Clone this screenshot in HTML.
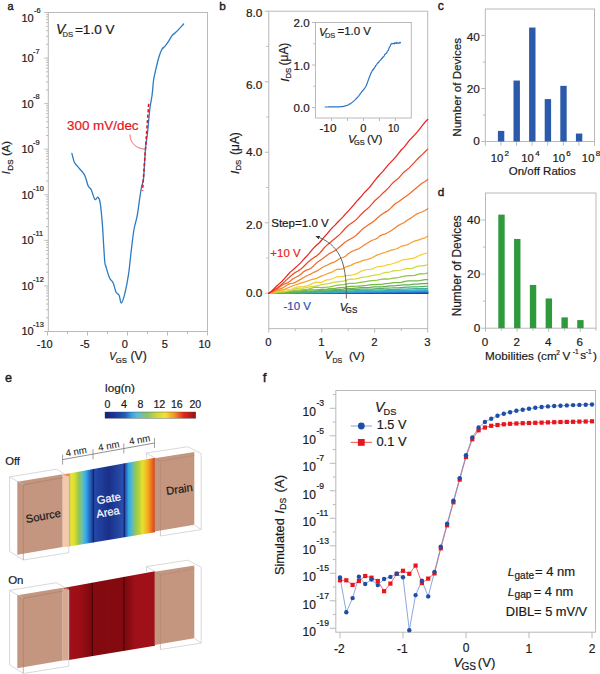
<!DOCTYPE html>
<html><head><meta charset="utf-8"><style>
html,body{margin:0;padding:0;background:#fff;}
svg{display:block;font-family:"Liberation Sans",sans-serif;}
text{font-family:"Liberation Sans",sans-serif;stroke:currentColor;stroke-width:0.2px;}
</style></head><body>
<svg width="600" height="674" viewBox="0 0 600 674">
<rect width="600" height="674" fill="#fff"/>
<text x="7.57" y="10.19" fill="#1a1a1a" color="#1a1a1a" style="font-size:10.87px;stroke-width:0.4px;">a</text>
<text x="219.23" y="10.18" fill="#1a1a1a" color="#1a1a1a" style="font-size:11.78px;stroke-width:0.4px;">b</text>
<text x="437.71" y="10.38" fill="#1a1a1a" color="#1a1a1a" style="font-size:12.23px;stroke-width:0.4px;">c</text>
<text x="437.73" y="195.58" fill="#1a1a1a" color="#1a1a1a" style="font-size:11.80px;stroke-width:0.4px;">d</text>
<text x="5.00" y="381.67" fill="#1a1a1a" color="#1a1a1a" style="font-size:12.60px;stroke-width:0.4px;">e</text>
<text x="262.80" y="381.70" fill="#1a1a1a" color="#1a1a1a" style="font-size:13.65px;stroke-width:0.4px;">f</text>
<rect x="48.30" y="12.50" width="159.20" height="319.00" fill="none" stroke="#bababa" stroke-width="1" />
<line x1="44.30" y1="331.50" x2="48.30" y2="331.50" stroke="#bababa" stroke-width="1" />
<line x1="46.10" y1="317.78" x2="48.30" y2="317.78" stroke="#bababa" stroke-width="1" />
<line x1="46.10" y1="309.76" x2="48.30" y2="309.76" stroke="#bababa" stroke-width="1" />
<line x1="46.10" y1="304.06" x2="48.30" y2="304.06" stroke="#bababa" stroke-width="1" />
<line x1="46.10" y1="299.65" x2="48.30" y2="299.65" stroke="#bababa" stroke-width="1" />
<line x1="46.10" y1="296.04" x2="48.30" y2="296.04" stroke="#bababa" stroke-width="1" />
<line x1="46.10" y1="292.99" x2="48.30" y2="292.99" stroke="#bababa" stroke-width="1" />
<line x1="46.10" y1="290.34" x2="48.30" y2="290.34" stroke="#bababa" stroke-width="1" />
<line x1="46.10" y1="288.01" x2="48.30" y2="288.01" stroke="#bababa" stroke-width="1" />
<line x1="44.30" y1="285.93" x2="48.30" y2="285.93" stroke="#bababa" stroke-width="1" />
<line x1="46.10" y1="272.21" x2="48.30" y2="272.21" stroke="#bababa" stroke-width="1" />
<line x1="46.10" y1="264.19" x2="48.30" y2="264.19" stroke="#bababa" stroke-width="1" />
<line x1="46.10" y1="258.49" x2="48.30" y2="258.49" stroke="#bababa" stroke-width="1" />
<line x1="46.10" y1="254.08" x2="48.30" y2="254.08" stroke="#bababa" stroke-width="1" />
<line x1="46.10" y1="250.47" x2="48.30" y2="250.47" stroke="#bababa" stroke-width="1" />
<line x1="46.10" y1="247.42" x2="48.30" y2="247.42" stroke="#bababa" stroke-width="1" />
<line x1="46.10" y1="244.77" x2="48.30" y2="244.77" stroke="#bababa" stroke-width="1" />
<line x1="46.10" y1="242.44" x2="48.30" y2="242.44" stroke="#bababa" stroke-width="1" />
<line x1="44.30" y1="240.36" x2="48.30" y2="240.36" stroke="#bababa" stroke-width="1" />
<line x1="46.10" y1="226.64" x2="48.30" y2="226.64" stroke="#bababa" stroke-width="1" />
<line x1="46.10" y1="218.61" x2="48.30" y2="218.61" stroke="#bababa" stroke-width="1" />
<line x1="46.10" y1="212.92" x2="48.30" y2="212.92" stroke="#bababa" stroke-width="1" />
<line x1="46.10" y1="208.50" x2="48.30" y2="208.50" stroke="#bababa" stroke-width="1" />
<line x1="46.10" y1="204.90" x2="48.30" y2="204.90" stroke="#bababa" stroke-width="1" />
<line x1="46.10" y1="201.84" x2="48.30" y2="201.84" stroke="#bababa" stroke-width="1" />
<line x1="46.10" y1="199.20" x2="48.30" y2="199.20" stroke="#bababa" stroke-width="1" />
<line x1="46.10" y1="196.87" x2="48.30" y2="196.87" stroke="#bababa" stroke-width="1" />
<line x1="44.30" y1="194.79" x2="48.30" y2="194.79" stroke="#bababa" stroke-width="1" />
<line x1="46.10" y1="181.07" x2="48.30" y2="181.07" stroke="#bababa" stroke-width="1" />
<line x1="46.10" y1="173.04" x2="48.30" y2="173.04" stroke="#bababa" stroke-width="1" />
<line x1="46.10" y1="167.35" x2="48.30" y2="167.35" stroke="#bababa" stroke-width="1" />
<line x1="46.10" y1="162.93" x2="48.30" y2="162.93" stroke="#bababa" stroke-width="1" />
<line x1="46.10" y1="159.32" x2="48.30" y2="159.32" stroke="#bababa" stroke-width="1" />
<line x1="46.10" y1="156.27" x2="48.30" y2="156.27" stroke="#bababa" stroke-width="1" />
<line x1="46.10" y1="153.63" x2="48.30" y2="153.63" stroke="#bababa" stroke-width="1" />
<line x1="46.10" y1="151.30" x2="48.30" y2="151.30" stroke="#bababa" stroke-width="1" />
<line x1="44.30" y1="149.21" x2="48.30" y2="149.21" stroke="#bababa" stroke-width="1" />
<line x1="46.10" y1="135.50" x2="48.30" y2="135.50" stroke="#bababa" stroke-width="1" />
<line x1="46.10" y1="127.47" x2="48.30" y2="127.47" stroke="#bababa" stroke-width="1" />
<line x1="46.10" y1="121.78" x2="48.30" y2="121.78" stroke="#bababa" stroke-width="1" />
<line x1="46.10" y1="117.36" x2="48.30" y2="117.36" stroke="#bababa" stroke-width="1" />
<line x1="46.10" y1="113.75" x2="48.30" y2="113.75" stroke="#bababa" stroke-width="1" />
<line x1="46.10" y1="110.70" x2="48.30" y2="110.70" stroke="#bababa" stroke-width="1" />
<line x1="46.10" y1="108.06" x2="48.30" y2="108.06" stroke="#bababa" stroke-width="1" />
<line x1="46.10" y1="105.73" x2="48.30" y2="105.73" stroke="#bababa" stroke-width="1" />
<line x1="44.30" y1="103.64" x2="48.30" y2="103.64" stroke="#bababa" stroke-width="1" />
<line x1="46.10" y1="89.92" x2="48.30" y2="89.92" stroke="#bababa" stroke-width="1" />
<line x1="46.10" y1="81.90" x2="48.30" y2="81.90" stroke="#bababa" stroke-width="1" />
<line x1="46.10" y1="76.21" x2="48.30" y2="76.21" stroke="#bababa" stroke-width="1" />
<line x1="46.10" y1="71.79" x2="48.30" y2="71.79" stroke="#bababa" stroke-width="1" />
<line x1="46.10" y1="68.18" x2="48.30" y2="68.18" stroke="#bababa" stroke-width="1" />
<line x1="46.10" y1="65.13" x2="48.30" y2="65.13" stroke="#bababa" stroke-width="1" />
<line x1="46.10" y1="62.49" x2="48.30" y2="62.49" stroke="#bababa" stroke-width="1" />
<line x1="46.10" y1="60.16" x2="48.30" y2="60.16" stroke="#bababa" stroke-width="1" />
<line x1="44.30" y1="58.07" x2="48.30" y2="58.07" stroke="#bababa" stroke-width="1" />
<line x1="46.10" y1="44.35" x2="48.30" y2="44.35" stroke="#bababa" stroke-width="1" />
<line x1="46.10" y1="36.33" x2="48.30" y2="36.33" stroke="#bababa" stroke-width="1" />
<line x1="46.10" y1="30.63" x2="48.30" y2="30.63" stroke="#bababa" stroke-width="1" />
<line x1="46.10" y1="26.22" x2="48.30" y2="26.22" stroke="#bababa" stroke-width="1" />
<line x1="46.10" y1="22.61" x2="48.30" y2="22.61" stroke="#bababa" stroke-width="1" />
<line x1="46.10" y1="19.56" x2="48.30" y2="19.56" stroke="#bababa" stroke-width="1" />
<line x1="46.10" y1="16.92" x2="48.30" y2="16.92" stroke="#bababa" stroke-width="1" />
<line x1="46.10" y1="14.59" x2="48.30" y2="14.59" stroke="#bababa" stroke-width="1" />
<line x1="44.30" y1="12.50" x2="48.30" y2="12.50" stroke="#bababa" stroke-width="1" />
<text x="21.47" y="335.39" fill="#1a1a1a" color="#1a1a1a" style="font-size:11.00px;">10</text>
<text x="33.07" y="327.23" fill="#1a1a1a" color="#1a1a1a" style="font-size:7.40px;">-13</text>
<text x="21.47" y="289.82" fill="#1a1a1a" color="#1a1a1a" style="font-size:11.00px;">10</text>
<text x="33.07" y="281.73" fill="#1a1a1a" color="#1a1a1a" style="font-size:7.40px;">-12</text>
<text x="21.47" y="244.25" fill="#1a1a1a" color="#1a1a1a" style="font-size:11.00px;">10</text>
<text x="33.07" y="236.16" fill="#1a1a1a" color="#1a1a1a" style="font-size:7.40px;">-11</text>
<text x="21.47" y="198.68" fill="#1a1a1a" color="#1a1a1a" style="font-size:11.00px;">10</text>
<text x="33.07" y="190.51" fill="#1a1a1a" color="#1a1a1a" style="font-size:7.40px;">-10</text>
<text x="21.47" y="153.10" fill="#1a1a1a" color="#1a1a1a" style="font-size:11.00px;">10</text>
<text x="33.07" y="144.94" fill="#1a1a1a" color="#1a1a1a" style="font-size:7.40px;">-9</text>
<text x="21.47" y="107.53" fill="#1a1a1a" color="#1a1a1a" style="font-size:11.00px;">10</text>
<text x="33.07" y="99.37" fill="#1a1a1a" color="#1a1a1a" style="font-size:7.40px;">-8</text>
<text x="21.47" y="61.96" fill="#1a1a1a" color="#1a1a1a" style="font-size:11.00px;">10</text>
<text x="33.07" y="53.87" fill="#1a1a1a" color="#1a1a1a" style="font-size:7.40px;">-7</text>
<text x="21.47" y="22.09" fill="#1a1a1a" color="#1a1a1a" style="font-size:11.00px;">10</text>
<text x="34.07" y="12.73" fill="#1a1a1a" color="#1a1a1a" style="font-size:7.40px;">-6</text>
<line x1="47.50" y1="331.50" x2="47.50" y2="335.50" stroke="#bababa" stroke-width="1" />
<text x="36.80" y="347.89" fill="#1a1a1a" color="#1a1a1a" style="font-size:11.00px;">-10</text>
<line x1="87.50" y1="331.50" x2="87.50" y2="335.50" stroke="#bababa" stroke-width="1" />
<text x="79.88" y="347.89" fill="#1a1a1a" color="#1a1a1a" style="font-size:11.00px;">-5</text>
<line x1="127.50" y1="331.50" x2="127.50" y2="335.50" stroke="#bababa" stroke-width="1" />
<text x="121.72" y="347.89" fill="#1a1a1a" color="#1a1a1a" style="font-size:11.00px;">0</text>
<line x1="167.50" y1="331.50" x2="167.50" y2="335.50" stroke="#bababa" stroke-width="1" />
<text x="161.75" y="347.89" fill="#1a1a1a" color="#1a1a1a" style="font-size:11.00px;">5</text>
<line x1="207.50" y1="331.50" x2="207.50" y2="335.50" stroke="#bababa" stroke-width="1" />
<text x="198.48" y="347.89" fill="#1a1a1a" color="#1a1a1a" style="font-size:11.00px;">10</text>
<line x1="67.50" y1="331.50" x2="67.50" y2="334.00" stroke="#bababa" stroke-width="1" />
<line x1="107.50" y1="331.50" x2="107.50" y2="334.00" stroke="#bababa" stroke-width="1" />
<line x1="147.50" y1="331.50" x2="147.50" y2="334.00" stroke="#bababa" stroke-width="1" />
<line x1="187.50" y1="331.50" x2="187.50" y2="334.00" stroke="#bababa" stroke-width="1" />
<text x="109.14" y="360.30" fill="#1a1a1a" color="#1a1a1a" style="font-size:10.14px;font-style:italic;">V</text>
<text x="115.81" y="363.22" fill="#1a1a1a" color="#1a1a1a" style="font-size:7.78px;">GS</text>
<text x="130.57" y="360.15" fill="#1a1a1a" color="#1a1a1a" style="font-size:12.15px;">(V)</text>
<text transform="translate(10.34,155.97) rotate(-90)" x="0" y="0" fill="#1a1a1a" color="#1a1a1a" style="font-size:11.24px;">(A)</text>
<text transform="translate(12.62,170.64) rotate(-90)" x="0" y="0" fill="#1a1a1a" color="#1a1a1a" style="font-size:8.00px;">DS</text>
<text transform="translate(10.00,174.15) rotate(-90)" x="0" y="0" fill="#1a1a1a" color="#1a1a1a" style="font-size:11.20px;font-style:italic;">I</text>
<text x="56.11" y="34.00" fill="#1a1a1a" color="#1a1a1a" style="font-size:14.06px;font-style:italic;">V</text>
<text x="62.38" y="36.92" fill="#333" color="#333" style="font-size:7.70px;">DS</text>
<text x="74.92" y="33.86" fill="#1a1a1a" color="#1a1a1a" style="font-size:13.61px;">=1.0 V</text>
<path d="M71.90,153.40 C72.32,154.88 73.42,160.08 74.40,162.30 C75.38,164.52 76.12,164.60 77.80,166.70 C79.48,168.80 82.77,171.68 84.50,174.90 C86.23,178.12 87.08,183.53 88.20,186.00 C89.32,188.47 90.08,187.47 91.20,189.70 C92.32,191.93 93.80,198.17 94.90,199.40 C96.00,200.63 96.93,196.62 97.80,197.10 C98.67,197.58 99.35,197.97 100.10,202.30 C100.85,206.63 101.72,216.12 102.30,223.10 C102.88,230.08 103.18,237.72 103.60,244.20 C104.02,250.68 104.40,258.23 104.80,262.00 C105.20,265.77 105.20,264.13 106.00,266.80 C106.80,269.47 108.42,275.33 109.60,278.00 C110.78,280.67 112.02,280.42 113.10,282.80 C114.18,285.18 115.10,290.23 116.10,292.30 C117.10,294.37 118.22,293.42 119.10,295.20 C119.98,296.98 120.42,303.38 121.40,303.00 C122.38,302.62 123.80,297.75 125.00,292.90 C126.20,288.05 127.62,280.43 128.60,273.90 C129.58,267.37 130.02,261.02 130.90,253.70 C131.78,246.38 132.85,236.33 133.90,230.00 C134.95,223.67 136.15,221.53 137.20,215.70 C138.25,209.87 139.45,199.92 140.20,195.00 C140.95,190.08 141.13,189.02 141.70,186.20 C142.27,183.38 142.98,184.15 143.60,178.10 C144.22,172.05 144.73,157.57 145.40,149.90 C146.07,142.23 146.87,138.90 147.60,132.10 C148.33,125.30 149.05,115.28 149.80,109.10 C150.55,102.92 151.47,99.85 152.10,95.00 C152.73,90.15 152.93,84.47 153.60,80.00 C154.27,75.53 155.25,71.90 156.10,68.20 C156.95,64.50 157.75,60.92 158.70,57.80 C159.65,54.68 160.77,51.42 161.80,49.50 C162.83,47.58 163.87,47.52 164.90,46.30 C165.93,45.08 166.78,44.02 168.00,42.20 C169.22,40.38 170.90,37.05 172.20,35.40 C173.50,33.75 173.90,34.20 175.80,32.30 C177.70,30.40 182.30,25.38 183.60,24.00" fill="none" stroke="#2b7bc4" stroke-width="1.3" stroke-linejoin="round" stroke-linecap="round"/>
<line x1="148.70" y1="103.80" x2="142.50" y2="190.70" stroke="#e8141e" stroke-width="1.6" stroke-dasharray="3.2,2.2"/>
<path d="M130,134.5 C130,143 136,148.5 145.4,149.3" fill="none" stroke="#ef5a60" stroke-width="0.9"/>
<text x="66.96" y="129.67" fill="#e8141e" color="#e8141e" style="font-size:13.43px;">300 mV/dec</text>
<rect x="268.80" y="11.20" width="158.90" height="317.40" fill="none" stroke="#bababa" stroke-width="1" />
<line x1="264.80" y1="11.22" x2="268.80" y2="11.22" stroke="#bababa" stroke-width="1" />
<text x="246.01" y="16.58" fill="#1a1a1a" color="#1a1a1a" style="font-size:11.80px;">8.0</text>
<line x1="264.80" y1="81.74" x2="268.80" y2="81.74" stroke="#bababa" stroke-width="1" />
<text x="246.01" y="88.88" fill="#1a1a1a" color="#1a1a1a" style="font-size:11.80px;">6.0</text>
<line x1="264.80" y1="152.26" x2="268.80" y2="152.26" stroke="#bababa" stroke-width="1" />
<text x="246.01" y="155.88" fill="#1a1a1a" color="#1a1a1a" style="font-size:11.80px;">4.0</text>
<line x1="264.80" y1="222.78" x2="268.80" y2="222.78" stroke="#bababa" stroke-width="1" />
<text x="246.01" y="228.58" fill="#1a1a1a" color="#1a1a1a" style="font-size:11.80px;">2.0</text>
<line x1="264.80" y1="293.30" x2="268.80" y2="293.30" stroke="#bababa" stroke-width="1" />
<text x="246.01" y="297.18" fill="#1a1a1a" color="#1a1a1a" style="font-size:11.80px;">0.0</text>
<line x1="266.30" y1="46.48" x2="268.80" y2="46.48" stroke="#bababa" stroke-width="1" />
<line x1="266.30" y1="117.00" x2="268.80" y2="117.00" stroke="#bababa" stroke-width="1" />
<line x1="266.30" y1="187.52" x2="268.80" y2="187.52" stroke="#bababa" stroke-width="1" />
<line x1="266.30" y1="258.04" x2="268.80" y2="258.04" stroke="#bababa" stroke-width="1" />
<line x1="268.80" y1="328.60" x2="268.80" y2="332.60" stroke="#bababa" stroke-width="1" />
<text x="265.34" y="346.09" fill="#1a1a1a" color="#1a1a1a" style="font-size:11.30px;">0</text>
<line x1="321.77" y1="328.60" x2="321.77" y2="332.60" stroke="#bababa" stroke-width="1" />
<text x="318.16" y="346.20" fill="#1a1a1a" color="#1a1a1a" style="font-size:11.30px;">1</text>
<line x1="374.73" y1="328.60" x2="374.73" y2="332.60" stroke="#bababa" stroke-width="1" />
<text x="371.30" y="346.20" fill="#1a1a1a" color="#1a1a1a" style="font-size:11.30px;">2</text>
<line x1="427.70" y1="328.60" x2="427.70" y2="332.60" stroke="#bababa" stroke-width="1" />
<text x="424.26" y="346.09" fill="#1a1a1a" color="#1a1a1a" style="font-size:11.30px;">3</text>
<line x1="295.28" y1="328.60" x2="295.28" y2="331.10" stroke="#bababa" stroke-width="1" />
<line x1="348.25" y1="328.60" x2="348.25" y2="331.10" stroke="#bababa" stroke-width="1" />
<line x1="401.22" y1="328.60" x2="401.22" y2="331.10" stroke="#bababa" stroke-width="1" />
<text x="324.64" y="359.40" fill="#1a1a1a" color="#1a1a1a" style="font-size:11.30px;font-style:italic;">V</text>
<text x="332.44" y="362.93" fill="#1a1a1a" color="#1a1a1a" style="font-size:7.00px;">DS</text>
<text x="348.89" y="359.73" fill="#1a1a1a" color="#1a1a1a" style="font-size:11.76px;">(V)</text>
<text transform="translate(238.71,154.91) rotate(-90)" x="0" y="0" fill="#1a1a1a" color="#1a1a1a" style="font-size:11.88px;">(μA)</text>
<text transform="translate(241.12,170.62) rotate(-90)" x="0" y="0" fill="#1a1a1a" color="#1a1a1a" style="font-size:7.80px;">DS</text>
<text transform="translate(238.50,173.97) rotate(-90)" x="0" y="0" fill="#1a1a1a" color="#1a1a1a" style="font-size:11.80px;font-style:italic;">I</text>
<polyline points="268.80,293.30 271.45,293.30 274.10,293.30 276.75,293.30 279.39,293.30 282.04,293.30 284.69,293.30 287.34,293.30 289.99,293.30 292.63,293.30 295.28,293.30 297.93,293.30 300.58,293.30 303.23,293.30 305.88,293.30 308.52,293.30 311.17,293.30 313.82,293.30 316.47,293.30 319.12,293.30 321.77,293.30 324.42,293.30 327.06,293.30 329.71,293.30 332.36,293.30 335.01,293.30 337.66,293.30 340.31,293.30 342.95,293.30 345.60,293.30 348.25,293.30 350.90,293.30 353.55,293.30 356.19,293.30 358.84,293.30 361.49,293.30 364.14,293.30 366.79,293.30 369.44,293.30 372.08,293.30 374.73,293.30 377.38,293.30 380.03,293.30 382.68,293.30 385.33,293.30 387.98,293.30 390.62,293.30 393.27,293.30 395.92,293.30 398.57,293.30 401.22,293.30 403.87,293.30 406.51,293.30 409.16,293.30 411.81,293.30 414.46,293.30 417.11,293.30 419.75,293.30 422.40,293.30 425.05,293.30 427.70,293.30" fill="none" stroke="#1a3890" stroke-width="1.25" stroke-linejoin="round" stroke-linecap="round" />
<polyline points="268.80,293.30 271.45,293.30 274.10,293.30 276.75,293.29 279.39,293.29 282.04,293.29 284.69,293.28 287.34,293.28 289.99,293.27 292.63,293.27 295.28,293.27 297.93,293.27 300.58,293.27 303.23,293.27 305.88,293.26 308.52,293.26 311.17,293.25 313.82,293.25 316.47,293.25 319.12,293.24 321.77,293.24 324.42,293.23 327.06,293.23 329.71,293.23 332.36,293.23 335.01,293.22 337.66,293.22 340.31,293.22 342.95,293.22 345.60,293.21 348.25,293.20 350.90,293.20 353.55,293.19 356.19,293.19 358.84,293.19 361.49,293.19 364.14,293.18 366.79,293.18 369.44,293.17 372.08,293.17 374.73,293.17 377.38,293.16 380.03,293.16 382.68,293.15 385.33,293.15 387.98,293.15 390.62,293.15 393.27,293.14 395.92,293.13 398.57,293.13 401.22,293.13 403.87,293.12 406.51,293.11 409.16,293.12 411.81,293.12 414.46,293.11 417.11,293.10 419.75,293.10 422.40,293.10 425.05,293.10 427.70,293.09" fill="none" stroke="#1a3e9a" stroke-width="1.25" stroke-linejoin="round" stroke-linecap="round" />
<polyline points="268.80,293.30 271.45,293.30 274.10,293.29 276.75,293.29 279.39,293.28 282.04,293.27 284.69,293.27 287.34,293.27 289.99,293.26 292.63,293.25 295.28,293.23 297.93,293.23 300.58,293.22 303.23,293.22 305.88,293.22 308.52,293.21 311.17,293.20 313.82,293.20 316.47,293.19 319.12,293.18 321.77,293.18 324.42,293.17 327.06,293.16 329.71,293.15 332.36,293.14 335.01,293.15 337.66,293.14 340.31,293.13 342.95,293.11 345.60,293.10 348.25,293.10 350.90,293.10 353.55,293.10 356.19,293.09 358.84,293.07 361.49,293.06 364.14,293.06 366.79,293.05 369.44,293.04 372.08,293.03 374.73,293.03 377.38,293.04 380.03,293.03 382.68,293.01 385.33,292.99 387.98,292.98 390.62,292.98 393.27,292.97 395.92,292.96 398.57,292.95 401.22,292.95 403.87,292.95 406.51,292.95 409.16,292.93 411.81,292.92 414.46,292.92 417.11,292.91 419.75,292.90 422.40,292.89 425.05,292.88 427.70,292.88" fill="none" stroke="#1c48a4" stroke-width="1.25" stroke-linejoin="round" stroke-linecap="round" />
<polyline points="268.80,293.30 271.45,293.29 274.10,293.29 276.75,293.28 279.39,293.27 282.04,293.25 284.69,293.24 287.34,293.23 289.99,293.21 292.63,293.20 295.28,293.21 297.93,293.21 300.58,293.20 303.23,293.18 305.88,293.16 308.52,293.14 311.17,293.13 313.82,293.12 316.47,293.10 319.12,293.08 321.77,293.07 324.42,293.07 327.06,293.07 329.71,293.06 332.36,293.05 335.01,293.04 337.66,293.03 340.31,293.02 342.95,292.99 345.60,292.97 348.25,292.97 350.90,292.96 353.55,292.96 356.19,292.95 358.84,292.93 361.49,292.91 364.14,292.89 366.79,292.88 369.44,292.87 372.08,292.85 374.73,292.85 377.38,292.84 380.03,292.84 382.68,292.82 385.33,292.79 387.98,292.77 390.62,292.75 393.27,292.75 395.92,292.75 398.57,292.73 401.22,292.72 403.87,292.72 406.51,292.70 409.16,292.68 411.81,292.66 414.46,292.66 417.11,292.66 419.75,292.65 422.40,292.62 425.05,292.61 427.70,292.59" fill="none" stroke="#1e54b0" stroke-width="1.25" stroke-linejoin="round" stroke-linecap="round" />
<polyline points="268.80,293.30 271.45,293.29 274.10,293.27 276.75,293.25 279.39,293.24 282.04,293.24 284.69,293.23 287.34,293.20 289.99,293.18 292.63,293.17 295.28,293.15 297.93,293.13 300.58,293.12 303.23,293.10 305.88,293.08 308.52,293.05 311.17,293.03 313.82,293.02 316.47,293.01 319.12,292.98 321.77,292.96 324.42,292.95 327.06,292.94 329.71,292.94 332.36,292.93 335.01,292.90 337.66,292.87 340.31,292.85 342.95,292.84 345.60,292.83 348.25,292.80 350.90,292.77 353.55,292.74 356.19,292.72 358.84,292.72 361.49,292.72 364.14,292.71 366.79,292.69 369.44,292.67 372.08,292.65 374.73,292.63 377.38,292.61 380.03,292.56 382.68,292.54 385.33,292.53 387.98,292.54 390.62,292.52 393.27,292.49 395.92,292.48 398.57,292.45 401.22,292.42 403.87,292.41 406.51,292.38 409.16,292.35 411.81,292.33 414.46,292.32 417.11,292.33 419.75,292.34 422.40,292.32 425.05,292.26 427.70,292.24" fill="none" stroke="#2262bc" stroke-width="1.25" stroke-linejoin="round" stroke-linecap="round" />
<polyline points="268.80,293.30 271.45,293.28 274.10,293.27 276.75,293.25 279.39,293.23 282.04,293.22 284.69,293.19 287.34,293.15 289.99,293.12 292.63,293.12 295.28,293.10 297.93,293.08 300.58,293.06 303.23,293.03 305.88,293.00 308.52,292.99 311.17,292.99 313.82,292.97 316.47,292.92 319.12,292.88 321.77,292.87 324.42,292.86 327.06,292.83 329.71,292.81 332.36,292.79 335.01,292.76 337.66,292.74 340.31,292.73 342.95,292.71 345.60,292.68 348.25,292.66 350.90,292.61 353.55,292.58 356.19,292.56 358.84,292.53 361.49,292.51 364.14,292.52 366.79,292.48 369.44,292.43 372.08,292.43 374.73,292.44 377.38,292.40 380.03,292.35 382.68,292.31 385.33,292.28 387.98,292.25 390.62,292.23 393.27,292.22 395.92,292.20 398.57,292.19 401.22,292.14 403.87,292.10 406.51,292.09 409.16,292.06 411.81,292.03 414.46,292.01 417.11,291.98 419.75,291.95 422.40,291.95 425.05,291.94 427.70,291.89" fill="none" stroke="#2876cc" stroke-width="1.25" stroke-linejoin="round" stroke-linecap="round" />
<polyline points="268.80,293.30 271.45,293.28 274.10,293.26 276.75,293.24 279.39,293.20 282.04,293.15 284.69,293.12 287.34,293.12 289.99,293.11 292.63,293.10 295.28,293.05 297.93,293.00 300.58,292.97 303.23,292.94 305.88,292.92 308.52,292.89 311.17,292.84 313.82,292.79 316.47,292.77 319.12,292.78 321.77,292.77 324.42,292.73 327.06,292.69 329.71,292.65 332.36,292.61 335.01,292.56 337.66,292.51 340.31,292.47 342.95,292.45 345.60,292.43 348.25,292.39 350.90,292.36 353.55,292.35 356.19,292.32 358.84,292.25 361.49,292.21 364.14,292.19 366.79,292.15 369.44,292.12 372.08,292.08 374.73,292.03 377.38,291.99 380.03,291.98 382.68,291.94 385.33,291.92 387.98,291.93 390.62,291.92 393.27,291.90 395.92,291.82 398.57,291.75 401.22,291.73 403.87,291.71 406.51,291.66 409.16,291.62 411.81,291.58 414.46,291.53 417.11,291.49 419.75,291.45 422.40,291.41 425.05,291.41 427.70,291.36" fill="none" stroke="#2c8cdc" stroke-width="1.25" stroke-linejoin="round" stroke-linecap="round" />
<polyline points="268.80,293.30 271.45,293.26 274.10,293.22 276.75,293.20 279.39,293.16 282.04,293.10 284.69,293.05 287.34,293.01 289.99,292.99 292.63,292.98 295.28,292.95 297.93,292.90 300.58,292.84 303.23,292.77 305.88,292.73 308.52,292.70 311.17,292.67 313.82,292.65 316.47,292.64 319.12,292.57 321.77,292.47 324.42,292.44 327.06,292.45 329.71,292.45 332.36,292.37 335.01,292.26 337.66,292.23 340.31,292.21 342.95,292.16 345.60,292.09 348.25,292.05 350.90,292.01 353.55,291.96 356.19,291.89 358.84,291.83 361.49,291.84 364.14,291.83 366.79,291.74 369.44,291.67 372.08,291.65 374.73,291.62 377.38,291.56 380.03,291.53 382.68,291.49 385.33,291.40 387.98,291.31 390.62,291.25 393.27,291.22 395.92,291.19 398.57,291.14 401.22,291.13 403.87,291.13 406.51,291.06 409.16,291.02 411.81,291.00 414.46,290.90 417.11,290.80 419.75,290.77 422.40,290.75 425.05,290.72 427.70,290.66" fill="none" stroke="#30a0e0" stroke-width="1.25" stroke-linejoin="round" stroke-linecap="round" />
<polyline points="268.80,293.30 271.45,293.25 274.10,293.20 276.75,293.16 279.39,293.11 282.04,293.05 284.69,293.01 287.34,293.00 289.99,292.97 292.63,292.87 295.28,292.76 297.93,292.70 300.58,292.73 303.23,292.73 305.88,292.60 308.52,292.48 311.17,292.41 313.82,292.35 316.47,292.30 319.12,292.31 321.77,292.30 324.42,292.21 327.06,292.08 329.71,292.01 332.36,291.99 335.01,291.93 337.66,291.83 340.31,291.77 342.95,291.77 345.60,291.76 348.25,291.70 350.90,291.61 353.55,291.53 356.19,291.48 358.84,291.46 361.49,291.41 364.14,291.28 366.79,291.22 369.44,291.20 372.08,291.15 374.73,291.09 377.38,291.01 380.03,290.92 382.68,290.82 385.33,290.72 387.98,290.71 390.62,290.74 393.27,290.68 395.92,290.59 398.57,290.54 401.22,290.47 403.87,290.40 406.51,290.29 409.16,290.23 411.81,290.19 414.46,290.08 417.11,289.97 419.75,289.92 422.40,289.89 425.05,289.84 427.70,289.77" fill="none" stroke="#38acc8" stroke-width="1.25" stroke-linejoin="round" stroke-linecap="round" />
<polyline points="268.80,293.30 271.45,293.24 274.10,293.20 276.75,293.13 279.39,293.05 282.04,292.99 284.69,292.94 287.34,292.92 289.99,292.82 292.63,292.67 295.28,292.64 297.93,292.56 300.58,292.51 303.23,292.50 305.88,292.41 308.52,292.35 311.17,292.22 313.82,292.05 316.47,292.01 319.12,291.95 321.77,291.78 324.42,291.61 327.06,291.58 329.71,291.53 332.36,291.48 335.01,291.48 337.66,291.36 340.31,291.21 342.95,291.12 345.60,291.01 348.25,290.94 350.90,290.91 353.55,290.83 356.19,290.72 358.84,290.60 361.49,290.51 364.14,290.46 366.79,290.38 369.44,290.28 372.08,290.17 374.73,290.09 377.38,290.02 380.03,289.97 382.68,289.98 385.33,289.85 387.98,289.68 390.62,289.62 393.27,289.63 395.92,289.56 398.57,289.37 401.22,289.18 403.87,289.13 406.51,289.09 409.16,288.95 411.81,288.80 414.46,288.70 417.11,288.65 419.75,288.60 422.40,288.51 425.05,288.51 427.70,288.36" fill="none" stroke="#40b0a0" stroke-width="1.25" stroke-linejoin="round" stroke-linecap="round" />
<polyline points="268.80,293.30 271.45,293.22 274.10,293.13 276.75,293.04 279.39,292.96 282.04,292.88 284.69,292.74 287.34,292.59 289.99,292.49 292.63,292.45 295.28,292.44 297.93,292.26 300.58,292.01 303.23,291.88 305.88,291.83 308.52,291.80 311.17,291.73 313.82,291.61 316.47,291.38 319.12,291.18 321.77,291.16 324.42,291.13 327.06,290.96 329.71,290.77 332.36,290.66 335.01,290.53 337.66,290.43 340.31,290.38 342.95,290.26 345.60,290.01 348.25,289.76 350.90,289.62 353.55,289.67 356.19,289.71 358.84,289.48 361.49,289.20 364.14,289.15 366.79,289.22 369.44,289.22 372.08,289.07 374.73,288.86 377.38,288.65 380.03,288.45 382.68,288.33 385.33,288.22 387.98,288.09 390.62,288.00 393.27,287.89 395.92,287.85 398.57,287.80 401.22,287.65 403.87,287.45 406.51,287.22 409.16,287.02 411.81,286.97 414.46,286.89 417.11,286.76 419.75,286.68 422.40,286.54 425.05,286.38 427.70,286.25" fill="none" stroke="#50b070" stroke-width="1.25" stroke-linejoin="round" stroke-linecap="round" />
<polyline points="268.80,293.30 271.45,293.20 274.10,293.07 276.75,292.94 279.39,292.80 282.04,292.63 284.69,292.45 287.34,292.34 289.99,292.40 292.63,292.28 295.28,291.94 297.93,291.78 300.58,291.69 303.23,291.49 305.88,291.31 308.52,291.14 311.17,291.04 313.82,290.98 316.47,290.84 319.12,290.55 321.77,290.28 324.42,290.14 327.06,289.98 329.71,289.96 332.36,289.93 335.01,289.64 337.66,289.40 340.31,289.30 342.95,289.05 345.60,288.72 348.25,288.67 350.90,288.64 353.55,288.40 356.19,288.16 358.84,287.90 361.49,287.62 364.14,287.55 366.79,287.52 369.44,287.36 372.08,287.03 374.73,286.81 377.38,286.86 380.03,286.82 382.68,286.67 385.33,286.45 387.98,286.10 390.62,285.86 393.27,285.84 395.92,285.68 398.57,285.30 401.22,285.07 403.87,284.99 406.51,284.96 409.16,284.85 411.81,284.49 414.46,284.19 417.11,284.07 419.75,283.86 422.40,283.66 425.05,283.59 427.70,283.43" fill="none" stroke="#60b052" stroke-width="1.25" stroke-linejoin="round" stroke-linecap="round" />
<polyline points="268.80,293.30 271.45,293.14 274.10,292.96 276.75,292.77 279.39,292.56 282.04,292.35 284.69,292.24 287.34,291.95 289.99,291.53 292.63,291.47 295.28,291.34 297.93,291.02 300.58,290.83 303.23,290.73 305.88,290.30 308.52,289.82 311.17,289.83 313.82,289.92 316.47,289.79 319.12,289.54 321.77,289.35 324.42,289.35 327.06,289.07 329.71,288.69 332.36,288.53 335.01,288.28 337.66,287.86 340.31,287.58 342.95,287.49 345.60,287.12 348.25,286.56 350.90,286.38 353.55,286.41 356.19,286.25 358.84,286.03 361.49,285.82 364.14,285.64 366.79,285.42 369.44,284.98 372.08,284.66 374.73,284.57 377.38,284.44 380.03,284.29 382.68,284.01 385.33,283.65 387.98,283.45 390.62,283.11 393.27,282.66 395.92,282.60 398.57,282.65 401.22,282.28 403.87,281.61 406.51,281.11 409.16,280.97 411.81,280.90 414.46,280.93 417.11,280.95 419.75,280.60 422.40,280.08 425.05,279.60 427.70,279.55" fill="none" stroke="#72b844" stroke-width="1.25" stroke-linejoin="round" stroke-linecap="round" />
<polyline points="268.80,293.30 271.45,293.10 274.10,292.96 276.75,292.62 279.39,292.25 282.04,292.11 284.69,291.71 287.34,291.31 289.99,291.22 292.63,290.74 295.28,290.22 297.93,290.17 300.58,289.98 303.23,289.62 305.88,289.45 308.52,289.08 311.17,288.28 313.82,287.49 316.47,287.21 319.12,287.48 321.77,287.65 324.42,287.46 327.06,287.24 329.71,286.85 332.36,286.28 335.01,285.69 337.66,285.15 340.31,284.98 342.95,284.76 345.60,284.24 348.25,283.70 350.90,283.31 353.55,283.28 356.19,283.14 358.84,282.65 361.49,282.19 364.14,281.78 366.79,281.37 369.44,280.99 372.08,280.74 374.73,280.46 377.38,280.06 380.03,279.50 382.68,279.02 385.33,278.93 387.98,279.01 390.62,278.71 393.27,278.12 395.92,277.79 398.57,277.51 401.22,276.85 403.87,276.24 406.51,275.93 409.16,275.72 411.81,275.63 414.46,275.40 417.11,274.62 419.75,273.89 422.40,273.87 425.05,273.65 427.70,273.20" fill="none" stroke="#94c242" stroke-width="1.25" stroke-linejoin="round" stroke-linecap="round" />
<polyline points="268.80,293.30 271.45,293.00 274.10,292.58 276.75,292.09 279.39,291.61 282.04,291.56 284.69,291.71 287.34,291.10 289.99,290.18 292.63,289.50 295.28,288.95 297.93,288.48 300.58,288.22 303.23,288.08 305.88,287.72 308.52,287.13 311.17,286.55 313.82,286.27 316.47,285.94 319.12,285.42 321.77,284.71 324.42,284.20 327.06,283.99 329.71,283.38 332.36,282.63 335.01,282.14 337.66,281.79 340.31,281.39 342.95,281.03 345.60,280.51 348.25,279.60 350.90,279.02 353.55,279.05 356.19,278.95 358.84,278.19 361.49,277.36 364.14,277.09 366.79,276.77 369.44,276.23 372.08,275.64 374.73,275.02 377.38,274.67 380.03,274.25 382.68,273.27 385.33,272.47 387.98,272.27 390.62,271.74 393.27,270.83 395.92,270.56 398.57,270.50 401.22,269.99 403.87,269.23 406.51,268.67 409.16,268.73 411.81,268.51 414.46,267.44 417.11,266.40 419.75,265.98 422.40,265.90 425.05,265.31 427.70,264.74" fill="none" stroke="#d0d840" stroke-width="1.25" stroke-linejoin="round" stroke-linecap="round" />
<polyline points="268.80,293.30 271.45,292.94 274.10,292.36 276.75,291.61 279.39,291.15 282.04,290.70 284.69,290.01 287.34,289.89 289.99,289.86 292.63,288.88 295.28,287.54 297.93,286.91 300.58,286.92 303.23,286.67 305.88,286.13 308.52,285.29 311.17,284.10 313.82,282.83 316.47,282.08 319.12,282.43 321.77,282.31 324.42,280.91 327.06,279.94 329.71,279.65 332.36,278.76 335.01,277.51 337.66,276.69 340.31,276.58 342.95,276.49 345.60,275.66 348.25,275.26 350.90,275.26 353.55,274.68 356.19,273.85 358.84,272.62 361.49,271.05 364.14,270.09 366.79,269.50 369.44,269.44 372.08,269.11 374.73,267.76 377.38,266.75 380.03,266.28 382.68,266.19 385.33,265.62 387.98,264.70 390.62,264.25 393.27,263.50 395.92,262.69 398.57,261.67 401.22,260.47 403.87,259.71 406.51,259.26 409.16,258.77 411.81,258.42 414.46,257.97 417.11,256.65 419.75,255.30 422.40,254.41 425.05,253.49 427.70,253.46" fill="none" stroke="#f5d034" stroke-width="1.25" stroke-linejoin="round" stroke-linecap="round" />
<polyline points="268.80,293.30 271.45,292.69 274.10,291.99 276.75,291.19 279.39,290.55 282.04,289.95 284.69,289.19 287.34,288.19 289.99,286.96 292.63,285.86 295.28,284.98 297.93,284.13 300.58,283.18 303.23,282.35 305.88,281.60 308.52,280.70 311.17,279.72 313.82,279.04 316.47,278.44 319.12,277.10 321.77,275.83 324.42,274.98 327.06,273.78 329.71,272.81 332.36,271.97 335.01,270.28 337.66,269.07 340.31,269.27 342.95,268.73 345.60,267.03 348.25,266.11 350.90,265.35 353.55,263.89 356.19,262.78 358.84,262.07 361.49,261.06 364.14,260.12 366.79,259.68 369.44,258.91 372.08,257.76 374.73,256.27 377.38,254.84 380.03,254.01 382.68,253.18 385.33,252.28 387.98,251.30 390.62,250.34 393.27,249.64 395.92,249.01 398.57,247.83 401.22,246.32 403.87,245.61 406.51,245.14 409.16,243.79 411.81,242.23 414.46,241.15 417.11,240.38 419.75,239.61 422.40,238.53 425.05,237.79 427.70,236.18" fill="none" stroke="#f5a232" stroke-width="1.25" stroke-linejoin="round" stroke-linecap="round" />
<polyline points="268.80,293.30 271.45,292.24 274.10,291.01 276.75,289.88 279.39,289.04 282.04,288.16 284.69,286.80 287.34,284.81 289.99,283.65 292.63,283.37 295.28,282.33 297.93,280.89 300.58,279.39 303.23,277.74 305.88,276.24 308.52,275.05 311.17,273.82 313.82,272.32 316.47,271.15 319.12,269.81 321.77,267.74 324.42,266.25 327.06,265.26 329.71,263.80 332.36,262.70 335.01,261.83 337.66,260.04 340.31,258.27 342.95,257.51 345.60,256.21 348.25,253.75 350.90,251.93 353.55,250.72 356.19,249.65 358.84,248.79 361.49,247.06 364.14,245.10 366.79,243.54 369.44,241.78 372.08,240.26 374.73,239.50 377.38,238.13 380.03,235.82 382.68,234.63 385.33,233.86 387.98,232.52 390.62,231.07 393.27,229.17 395.92,227.21 398.57,225.39 401.22,224.01 403.87,222.76 406.51,220.84 409.16,219.10 411.81,217.57 414.46,215.59 417.11,213.81 419.75,212.78 422.40,211.78 425.05,210.46 427.70,208.68" fill="none" stroke="#f28430" stroke-width="1.25" stroke-linejoin="round" stroke-linecap="round" />
<polyline points="268.80,293.30 271.45,292.01 274.10,290.63 276.75,289.13 279.39,287.26 282.04,285.32 284.69,283.90 287.34,282.92 289.99,281.29 292.63,279.04 295.28,277.46 297.93,276.26 300.58,274.44 303.23,272.08 305.88,270.38 308.52,269.45 311.17,268.14 313.82,265.67 316.47,262.95 319.12,261.05 321.77,259.25 324.42,257.21 327.06,255.18 329.71,253.33 332.36,251.98 335.01,250.63 337.66,248.59 340.31,246.28 342.95,244.00 345.60,241.79 348.25,240.17 350.90,238.79 353.55,237.17 356.19,235.24 358.84,232.79 361.49,230.09 364.14,227.83 366.79,225.90 369.44,224.10 372.08,222.52 374.73,220.44 377.38,218.01 380.03,215.77 382.68,213.74 385.33,212.10 387.98,210.60 390.62,208.36 393.27,205.48 395.92,203.24 398.57,201.68 401.22,199.70 403.87,197.66 406.51,195.98 409.16,194.00 411.81,191.77 414.46,189.50 417.11,187.32 419.75,185.08 422.40,183.01 425.05,181.51 427.70,179.41" fill="none" stroke="#f06c28" stroke-width="1.25" stroke-linejoin="round" stroke-linecap="round" />
<polyline points="268.80,293.30 271.45,291.70 274.10,290.00 276.75,288.16 279.39,286.21 282.04,284.02 284.69,281.62 287.34,279.15 289.99,276.66 292.63,274.38 295.28,272.58 297.93,271.01 300.58,269.20 303.23,267.04 305.88,264.29 308.52,261.65 311.17,259.55 313.82,257.64 316.47,255.95 319.12,253.84 321.77,250.74 324.42,247.51 327.06,245.10 329.71,242.91 332.36,240.53 335.01,238.44 337.66,236.33 340.31,233.87 342.95,231.02 345.60,228.04 348.25,225.52 350.90,223.60 353.55,221.84 356.19,219.61 358.84,216.82 361.49,214.04 364.14,211.56 366.79,209.24 369.44,206.84 372.08,203.79 374.73,200.74 377.38,198.58 380.03,196.12 382.68,193.33 385.33,190.94 387.98,188.40 390.62,185.35 393.27,182.44 395.92,180.30 398.57,178.11 401.22,175.08 403.87,172.18 406.51,170.10 409.16,167.87 411.81,165.15 414.46,162.38 417.11,159.45 419.75,156.78 422.40,154.37 425.05,151.73 427.70,149.09" fill="none" stroke="#ee4824" stroke-width="1.25" stroke-linejoin="round" stroke-linecap="round" />
<polyline points="268.80,293.30 271.45,291.24 274.10,288.70 276.75,286.04 279.39,283.65 282.04,281.23 284.69,278.38 287.34,275.29 289.99,272.39 292.63,270.14 295.28,267.75 297.93,265.40 300.58,262.85 303.23,259.84 305.88,257.05 308.52,254.10 311.17,250.96 313.82,247.91 316.47,245.23 319.12,243.00 321.77,240.03 324.42,236.72 327.06,233.87 329.71,230.59 332.36,227.61 335.01,225.10 337.66,222.22 340.31,219.57 342.95,216.86 345.60,213.92 348.25,211.08 350.90,208.14 353.55,205.04 356.19,201.94 358.84,199.04 361.49,196.04 364.14,192.91 366.79,190.26 369.44,187.41 372.08,184.01 374.73,180.71 377.38,177.47 380.03,174.46 382.68,171.57 385.33,168.32 387.98,165.12 390.62,162.34 393.27,159.57 395.92,156.68 398.57,153.33 401.22,150.01 403.87,147.38 406.51,144.20 409.16,140.68 411.81,137.80 414.46,135.18 417.11,132.18 419.75,128.81 422.40,125.35 425.05,122.03 427.70,119.47" fill="none" stroke="#e8241e" stroke-width="1.25" stroke-linejoin="round" stroke-linecap="round" />
<text x="271.18" y="227.17" fill="#1a1a1a" color="#1a1a1a" style="font-size:11.59px;">Step=1.0 V</text>
<text x="270.33" y="256.99" fill="#e8241e" color="#e8241e" style="font-size:11.49px;">+10 V</text>
<text x="283.48" y="310.38" fill="#2a50b0" color="#2a50b0" style="font-size:11.54px;">-10 V</text>
<path d="M346.3,298.6 C346.7,268 342.5,247 319.5,237.6" fill="none" stroke="#555" stroke-width="0.9"/>
<polygon points="315.4,235.9 320.2,235.9 318.6,239.2" fill="#333"/>
<text x="339.84" y="310.80" fill="#1a1a1a" color="#1a1a1a" style="font-size:11.30px;font-style:italic;">V</text>
<text x="345.59" y="312.92" fill="#1a1a1a" color="#1a1a1a" style="font-size:8.15px;">GS</text>
<rect x="315.50" y="22.50" width="95.80" height="95.50" fill="#fff" stroke="#bababa" stroke-width="1" />
<line x1="312.00" y1="22.50" x2="315.50" y2="22.50" stroke="#bababa" stroke-width="1" />
<text x="293.48" y="27.18" fill="#1a1a1a" color="#1a1a1a" style="font-size:11.60px;">2.0</text>
<line x1="312.00" y1="65.00" x2="315.50" y2="65.00" stroke="#bababa" stroke-width="1" />
<text x="293.48" y="69.58" fill="#1a1a1a" color="#1a1a1a" style="font-size:11.60px;">1.0</text>
<line x1="312.00" y1="107.50" x2="315.50" y2="107.50" stroke="#bababa" stroke-width="1" />
<text x="293.48" y="111.58" fill="#1a1a1a" color="#1a1a1a" style="font-size:11.60px;">0.0</text>
<line x1="313.30" y1="43.75" x2="315.50" y2="43.75" stroke="#bababa" stroke-width="1" />
<line x1="313.30" y1="86.25" x2="315.50" y2="86.25" stroke="#bababa" stroke-width="1" />
<line x1="331.60" y1="118.00" x2="331.60" y2="121.00" stroke="#bababa" stroke-width="1" />
<line x1="347.55" y1="118.00" x2="347.55" y2="121.00" stroke="#bababa" stroke-width="1" />
<line x1="363.50" y1="118.00" x2="363.50" y2="121.00" stroke="#bababa" stroke-width="1" />
<line x1="379.45" y1="118.00" x2="379.45" y2="121.00" stroke="#bababa" stroke-width="1" />
<line x1="395.40" y1="118.00" x2="395.40" y2="121.00" stroke="#bababa" stroke-width="1" />
<text x="319.47" y="132.08" fill="#1a1a1a" color="#1a1a1a" style="font-size:11.72px;">-10</text>
<text x="360.22" y="132.19" fill="#1a1a1a" color="#1a1a1a" style="font-size:11.00px;">0</text>
<text x="387.94" y="132.10" fill="#1a1a1a" color="#1a1a1a" style="font-size:10.14px;">10</text>
<text x="348.10" y="142.75" fill="#1a1a1a" color="#1a1a1a" style="font-size:11.81px;font-style:italic;">V</text>
<text x="354.03" y="145.23" fill="#1a1a1a" color="#1a1a1a" style="font-size:7.40px;">GS</text>
<text x="366.90" y="142.55" fill="#1a1a1a" color="#1a1a1a" style="font-size:11.66px;">(V)</text>
<text transform="translate(288.28,65.52) rotate(-90)" x="0" y="0" fill="#1a1a1a" color="#1a1a1a" style="font-size:11.99px;">(μA)</text>
<text transform="translate(291.32,78.62) rotate(-90)" x="0" y="0" fill="#1a1a1a" color="#1a1a1a" style="font-size:7.80px;">DS</text>
<text transform="translate(288.90,81.67) rotate(-90)" x="0" y="0" fill="#1a1a1a" color="#1a1a1a" style="font-size:11.80px;font-style:italic;">I</text>
<text x="319.01" y="35.50" fill="#1a1a1a" color="#1a1a1a" style="font-size:11.59px;font-style:italic;">V</text>
<text x="324.90" y="38.42" fill="#333" color="#333" style="font-size:7.54px;">DS</text>
<text x="337.43" y="35.39" fill="#1a1a1a" color="#1a1a1a" style="font-size:11.49px;">=1.0 V</text>
<polyline points="325.00,107.00 325.60,107.00 326.21,106.99 326.81,106.99 327.41,106.98 328.02,106.98 328.62,106.97 329.22,106.97 329.83,106.96 330.43,106.96 331.03,106.95 331.64,106.95 332.24,106.94 332.84,106.94 333.44,106.94 334.05,106.93 334.65,106.93 335.25,106.92 335.86,106.92 336.46,106.91 337.06,106.91 337.67,106.90 338.27,106.88 338.87,106.83 339.48,106.78 340.08,106.73 340.68,106.69 341.29,106.64 341.89,106.59 342.49,106.54 343.10,106.47 343.70,106.31 344.30,106.15 344.91,105.99 345.51,105.83 346.11,105.67 346.72,105.51 347.32,105.35 347.92,105.06 348.52,104.71 349.13,104.37 349.73,104.03 350.33,103.68 350.94,103.34 351.54,102.85 352.14,102.36 352.75,101.86 353.35,101.36 353.95,100.86 354.56,100.37 355.16,99.83 355.76,99.17 356.37,98.52 356.97,97.86 357.57,97.21 358.18,96.55 358.78,95.82 359.38,94.99 359.99,94.16 360.59,93.33 361.19,92.50 361.80,91.69 362.40,91.00 363.00,90.31 363.60,89.62 364.21,88.93 364.81,88.07 365.41,87.05 366.02,86.02 366.62,84.86 367.22,83.14 367.83,81.42 368.43,79.70 369.03,78.09 369.64,76.49 370.24,74.89 370.84,73.60 371.45,72.29 372.05,71.31 372.65,69.83 373.26,69.99 373.86,68.39 374.46,68.20 375.07,67.03 375.67,65.57 376.27,65.22 376.88,64.25 377.48,63.24 378.08,62.66 378.68,62.55 379.29,61.02 379.89,60.68 380.49,60.10 381.10,59.54 381.70,58.24 382.30,58.32 382.91,56.96 383.51,56.89 384.11,56.08 384.72,54.63 385.32,53.99 385.92,53.38 386.53,53.26 387.13,52.02 387.73,50.85 388.34,50.37 388.94,48.33 389.54,47.16 390.15,45.95 390.75,44.68 391.35,43.92 391.96,43.39 392.56,43.76 393.16,43.44 393.76,43.56 394.37,43.65 394.97,42.66 395.57,43.14 396.18,43.44 396.78,42.42 397.38,43.04 397.99,42.98 398.59,43.34 399.19,43.19 399.80,42.26 400.40,42.79" fill="none" stroke="#2a72c4" stroke-width="1.2" stroke-linejoin="round" stroke-linecap="round" />
<rect x="485.30" y="9.00" width="109.20" height="132.50" fill="none" stroke="#bababa" stroke-width="1" />
<line x1="481.30" y1="141.50" x2="485.30" y2="141.50" stroke="#bababa" stroke-width="1" />
<text x="473.26" y="145.48" fill="#1a1a1a" color="#1a1a1a" style="font-size:11.80px;">0</text>
<line x1="481.30" y1="88.50" x2="485.30" y2="88.50" stroke="#bababa" stroke-width="1" />
<text x="466.71" y="92.63" fill="#1a1a1a" color="#1a1a1a" style="font-size:11.80px;">20</text>
<line x1="481.30" y1="35.50" x2="485.30" y2="35.50" stroke="#bababa" stroke-width="1" />
<text x="466.71" y="40.63" fill="#1a1a1a" color="#1a1a1a" style="font-size:11.80px;">40</text>
<line x1="482.80" y1="115.00" x2="485.30" y2="115.00" stroke="#bababa" stroke-width="1" />
<line x1="482.80" y1="62.00" x2="485.30" y2="62.00" stroke="#bababa" stroke-width="1" />
<line x1="485.30" y1="141.50" x2="485.30" y2="145.70" stroke="#bababa" stroke-width="1" />
<line x1="500.90" y1="141.50" x2="500.90" y2="145.70" stroke="#bababa" stroke-width="1" />
<line x1="516.50" y1="141.50" x2="516.50" y2="145.70" stroke="#bababa" stroke-width="1" />
<line x1="532.10" y1="141.50" x2="532.10" y2="145.70" stroke="#bababa" stroke-width="1" />
<line x1="547.70" y1="141.50" x2="547.70" y2="145.70" stroke="#bababa" stroke-width="1" />
<line x1="563.30" y1="141.50" x2="563.30" y2="145.70" stroke="#bababa" stroke-width="1" />
<line x1="578.90" y1="141.50" x2="578.90" y2="145.70" stroke="#bababa" stroke-width="1" />
<line x1="594.50" y1="141.50" x2="594.50" y2="145.70" stroke="#bababa" stroke-width="1" />
<rect x="497.90" y="130.90" width="6.40" height="10.60" fill="#2b5aab" stroke="none" stroke-width="1" />
<rect x="513.50" y="80.55" width="6.40" height="60.95" fill="#2b5aab" stroke="none" stroke-width="1" />
<rect x="529.10" y="27.55" width="6.40" height="113.95" fill="#2b5aab" stroke="none" stroke-width="1" />
<rect x="544.70" y="99.10" width="6.40" height="42.40" fill="#2b5aab" stroke="none" stroke-width="1" />
<rect x="560.30" y="85.85" width="6.40" height="55.65" fill="#2b5aab" stroke="none" stroke-width="1" />
<rect x="575.90" y="133.55" width="6.40" height="7.95" fill="#2b5aab" stroke="none" stroke-width="1" />
<text x="490.65" y="161.79" fill="#1a1a1a" color="#1a1a1a" style="font-size:11.30px;">10</text>
<text x="504.50" y="156.00" fill="#1a1a1a" color="#1a1a1a" style="font-size:8.00px;">2</text>
<text x="521.15" y="161.79" fill="#1a1a1a" color="#1a1a1a" style="font-size:11.30px;">10</text>
<text x="535.24" y="156.00" fill="#1a1a1a" color="#1a1a1a" style="font-size:8.00px;">4</text>
<text x="552.45" y="161.79" fill="#1a1a1a" color="#1a1a1a" style="font-size:11.30px;">10</text>
<text x="566.30" y="155.92" fill="#1a1a1a" color="#1a1a1a" style="font-size:8.00px;">6</text>
<text x="581.85" y="161.79" fill="#1a1a1a" color="#1a1a1a" style="font-size:11.30px;">10</text>
<text x="595.74" y="155.92" fill="#1a1a1a" color="#1a1a1a" style="font-size:8.00px;">8</text>
<text x="508.78" y="175.19" fill="#1a1a1a" color="#1a1a1a" style="font-size:11.50px;">On/off Ratios</text>
<text transform="translate(461.08,136.73) rotate(-90)" x="0" y="0" fill="#1a1a1a" color="#1a1a1a" style="font-size:11.62px;">Number of Devices</text>
<rect x="485.50" y="193.00" width="110.50" height="135.20" fill="none" stroke="#bababa" stroke-width="1" />
<line x1="481.50" y1="328.20" x2="485.50" y2="328.20" stroke="#bababa" stroke-width="1" />
<text x="473.66" y="331.63" fill="#1a1a1a" color="#1a1a1a" style="font-size:11.80px;">0</text>
<line x1="481.50" y1="274.12" x2="485.50" y2="274.12" stroke="#bababa" stroke-width="1" />
<text x="467.12" y="278.38" fill="#1a1a1a" color="#1a1a1a" style="font-size:11.80px;">20</text>
<line x1="481.50" y1="220.04" x2="485.50" y2="220.04" stroke="#bababa" stroke-width="1" />
<text x="467.12" y="223.88" fill="#1a1a1a" color="#1a1a1a" style="font-size:11.80px;">40</text>
<line x1="483.00" y1="301.16" x2="485.50" y2="301.16" stroke="#bababa" stroke-width="1" />
<line x1="483.00" y1="247.08" x2="485.50" y2="247.08" stroke="#bababa" stroke-width="1" />
<line x1="485.50" y1="328.20" x2="485.50" y2="331.70" stroke="#bababa" stroke-width="1" />
<line x1="501.29" y1="328.20" x2="501.29" y2="330.70" stroke="#bababa" stroke-width="1" />
<line x1="517.07" y1="328.20" x2="517.07" y2="331.70" stroke="#bababa" stroke-width="1" />
<line x1="532.86" y1="328.20" x2="532.86" y2="330.70" stroke="#bababa" stroke-width="1" />
<line x1="548.64" y1="328.20" x2="548.64" y2="331.70" stroke="#bababa" stroke-width="1" />
<line x1="564.43" y1="328.20" x2="564.43" y2="330.70" stroke="#bababa" stroke-width="1" />
<line x1="580.21" y1="328.20" x2="580.21" y2="331.70" stroke="#bababa" stroke-width="1" />
<line x1="596.00" y1="328.20" x2="596.00" y2="330.70" stroke="#bababa" stroke-width="1" />
<rect x="498.29" y="214.63" width="6.40" height="113.57" fill="#2e9a3c" stroke="none" stroke-width="1" />
<rect x="514.07" y="238.97" width="6.40" height="89.23" fill="#2e9a3c" stroke="none" stroke-width="1" />
<rect x="529.86" y="284.94" width="6.40" height="43.26" fill="#2e9a3c" stroke="none" stroke-width="1" />
<rect x="545.64" y="298.46" width="6.40" height="29.74" fill="#2e9a3c" stroke="none" stroke-width="1" />
<rect x="561.43" y="317.38" width="6.40" height="10.82" fill="#2e9a3c" stroke="none" stroke-width="1" />
<rect x="577.21" y="320.09" width="6.40" height="8.11" fill="#2e9a3c" stroke="none" stroke-width="1" />
<text x="481.85" y="345.88" fill="#1a1a1a" color="#1a1a1a" style="font-size:11.60px;">0</text>
<text x="513.45" y="346.00" fill="#1a1a1a" color="#1a1a1a" style="font-size:11.60px;">2</text>
<text x="545.08" y="346.00" fill="#1a1a1a" color="#1a1a1a" style="font-size:11.60px;">4</text>
<text x="576.54" y="345.88" fill="#1a1a1a" color="#1a1a1a" style="font-size:11.60px;">6</text>
<text x="485.06" y="359.60" fill="#1a1a1a" color="#1a1a1a" style="font-size:11.73px;">Mobilities (cm</text>
<text x="556.27" y="354.50" fill="#1a1a1a" color="#1a1a1a" style="font-size:6.60px;">2</text>
<text x="562.44" y="359.60" fill="#1a1a1a" color="#1a1a1a" style="font-size:11.73px;">V</text>
<text x="572.70" y="354.20" fill="#1a1a1a" color="#1a1a1a" style="font-size:6.60px;">-1</text>
<text x="580.15" y="359.48" fill="#1a1a1a" color="#1a1a1a" style="font-size:11.73px;">s</text>
<text x="585.70" y="354.20" fill="#1a1a1a" color="#1a1a1a" style="font-size:6.60px;">-1</text>
<text x="592.94" y="359.74" fill="#1a1a1a" color="#1a1a1a" style="font-size:11.73px;">)</text>
<text transform="translate(461.28,316.35) rotate(-90)" x="0" y="0" fill="#1a1a1a" color="#1a1a1a" style="font-size:11.90px;">Number of Devices</text>
<rect x="335.80" y="390.50" width="259.70" height="241.70" fill="none" stroke="#bababa" stroke-width="1" />
<line x1="329.80" y1="628.30" x2="335.80" y2="628.30" stroke="#bababa" stroke-width="1" />
<line x1="332.80" y1="614.55" x2="335.80" y2="614.55" stroke="#bababa" stroke-width="1" />
<line x1="329.80" y1="600.80" x2="335.80" y2="600.80" stroke="#bababa" stroke-width="1" />
<line x1="332.80" y1="587.05" x2="335.80" y2="587.05" stroke="#bababa" stroke-width="1" />
<line x1="329.80" y1="573.30" x2="335.80" y2="573.30" stroke="#bababa" stroke-width="1" />
<line x1="332.80" y1="559.55" x2="335.80" y2="559.55" stroke="#bababa" stroke-width="1" />
<line x1="329.80" y1="545.80" x2="335.80" y2="545.80" stroke="#bababa" stroke-width="1" />
<line x1="332.80" y1="532.05" x2="335.80" y2="532.05" stroke="#bababa" stroke-width="1" />
<line x1="329.80" y1="518.30" x2="335.80" y2="518.30" stroke="#bababa" stroke-width="1" />
<line x1="332.80" y1="504.55" x2="335.80" y2="504.55" stroke="#bababa" stroke-width="1" />
<line x1="329.80" y1="490.80" x2="335.80" y2="490.80" stroke="#bababa" stroke-width="1" />
<line x1="332.80" y1="477.05" x2="335.80" y2="477.05" stroke="#bababa" stroke-width="1" />
<line x1="329.80" y1="463.30" x2="335.80" y2="463.30" stroke="#bababa" stroke-width="1" />
<line x1="332.80" y1="449.55" x2="335.80" y2="449.55" stroke="#bababa" stroke-width="1" />
<line x1="329.80" y1="435.80" x2="335.80" y2="435.80" stroke="#bababa" stroke-width="1" />
<line x1="332.80" y1="422.05" x2="335.80" y2="422.05" stroke="#bababa" stroke-width="1" />
<line x1="329.80" y1="408.30" x2="335.80" y2="408.30" stroke="#bababa" stroke-width="1" />
<line x1="332.80" y1="394.55" x2="335.80" y2="394.55" stroke="#bababa" stroke-width="1" />
<text x="302.50" y="416.28" fill="#1a1a1a" color="#1a1a1a" style="font-size:12.00px;">10</text>
<text x="316.51" y="406.31" fill="#1a1a1a" color="#1a1a1a" style="font-size:8.60px;">-3</text>
<text x="302.50" y="443.78" fill="#1a1a1a" color="#1a1a1a" style="font-size:12.00px;">10</text>
<text x="316.51" y="433.81" fill="#1a1a1a" color="#1a1a1a" style="font-size:8.60px;">-5</text>
<text x="302.50" y="471.28" fill="#1a1a1a" color="#1a1a1a" style="font-size:12.00px;">10</text>
<text x="316.51" y="461.40" fill="#1a1a1a" color="#1a1a1a" style="font-size:8.60px;">-7</text>
<text x="302.50" y="498.78" fill="#1a1a1a" color="#1a1a1a" style="font-size:12.00px;">10</text>
<text x="316.51" y="488.81" fill="#1a1a1a" color="#1a1a1a" style="font-size:8.60px;">-9</text>
<text x="302.50" y="526.28" fill="#1a1a1a" color="#1a1a1a" style="font-size:12.00px;">10</text>
<text x="316.51" y="516.40" fill="#1a1a1a" color="#1a1a1a" style="font-size:8.60px;">-11</text>
<text x="302.50" y="553.78" fill="#1a1a1a" color="#1a1a1a" style="font-size:12.00px;">10</text>
<text x="316.51" y="543.81" fill="#1a1a1a" color="#1a1a1a" style="font-size:8.60px;">-13</text>
<text x="302.50" y="581.28" fill="#1a1a1a" color="#1a1a1a" style="font-size:12.00px;">10</text>
<text x="316.51" y="571.31" fill="#1a1a1a" color="#1a1a1a" style="font-size:8.60px;">-15</text>
<text x="302.50" y="608.78" fill="#1a1a1a" color="#1a1a1a" style="font-size:12.00px;">10</text>
<text x="316.51" y="598.90" fill="#1a1a1a" color="#1a1a1a" style="font-size:8.60px;">-17</text>
<text x="302.50" y="636.28" fill="#1a1a1a" color="#1a1a1a" style="font-size:12.00px;">10</text>
<text x="316.51" y="626.31" fill="#1a1a1a" color="#1a1a1a" style="font-size:8.60px;">-19</text>
<line x1="340.00" y1="632.20" x2="340.00" y2="638.20" stroke="#bababa" stroke-width="1" />
<text x="334.09" y="652.60" fill="#1a1a1a" color="#1a1a1a" style="font-size:12.00px;">-2</text>
<line x1="403.00" y1="632.20" x2="403.00" y2="638.20" stroke="#bababa" stroke-width="1" />
<text x="397.06" y="652.60" fill="#1a1a1a" color="#1a1a1a" style="font-size:12.00px;">-1</text>
<line x1="466.00" y1="632.20" x2="466.00" y2="638.20" stroke="#bababa" stroke-width="1" />
<text x="462.64" y="652.48" fill="#1a1a1a" color="#1a1a1a" style="font-size:12.00px;">0</text>
<line x1="529.00" y1="632.20" x2="529.00" y2="638.20" stroke="#bababa" stroke-width="1" />
<text x="525.49" y="652.60" fill="#1a1a1a" color="#1a1a1a" style="font-size:12.00px;">1</text>
<line x1="592.00" y1="632.20" x2="592.00" y2="638.20" stroke="#bababa" stroke-width="1" />
<text x="588.67" y="652.60" fill="#1a1a1a" color="#1a1a1a" style="font-size:12.00px;">2</text>
<text x="453.49" y="667.00" fill="#1a1a1a" color="#1a1a1a" style="font-size:13.04px;font-style:italic;">V</text>
<text x="461.50" y="670.10" fill="#1a1a1a" color="#1a1a1a" style="font-size:10.07px;">GS</text>
<text x="477.81" y="666.72" fill="#1a1a1a" color="#1a1a1a" style="font-size:13.22px;">(V)</text>
<text transform="translate(284.47,574.97) rotate(-90)" x="0" y="0" fill="#1a1a1a" color="#1a1a1a" style="font-size:12.76px;">Simulated</text>
<text transform="translate(284.00,513.71) rotate(-90)" x="0" y="0" fill="#1a1a1a" color="#1a1a1a" style="font-size:12.76px;font-style:italic;">I</text>
<text transform="translate(285.91,509.69) rotate(-90)" x="0" y="0" fill="#1a1a1a" color="#1a1a1a" style="font-size:8.60px;">DS</text>
<text transform="translate(284.12,492.59) rotate(-90)" x="0" y="0" fill="#1a1a1a" color="#1a1a1a" style="font-size:13.22px;">(A)</text>
<polyline points="340.00,580.30 346.30,580.30 352.60,584.90 358.90,581.00 365.20,576.00 371.50,577.70 377.80,581.00 384.10,591.20 390.40,583.60 396.70,573.80 403.00,570.80 409.30,573.80 415.60,565.60 421.90,583.00 428.20,578.60 434.50,573.40 440.80,548.30 447.10,525.30 453.40,502.30 459.70,479.60 466.00,457.00 472.30,439.20 478.60,430.30 484.90,427.50 491.20,425.80 497.50,425.00 503.80,424.30 510.10,423.80 516.40,423.50 522.70,423.20 529.00,423.00 535.30,422.80 541.60,422.60 547.90,422.40 554.20,422.20 560.50,422.00 566.80,421.90 573.10,421.80 579.40,421.60 585.70,421.50 592.00,421.30" fill="none" stroke="#ee4444" stroke-width="0.8" stroke-linejoin="round" stroke-linecap="round" />
<polyline points="340.00,577.50 346.30,612.20 352.60,598.10 358.90,576.70 365.20,584.00 371.50,579.50 377.80,585.10 384.10,579.00 390.40,576.90 396.70,573.80 403.00,577.30 409.30,630.20 415.60,595.10 421.90,580.80 428.20,596.40 434.50,571.90 440.80,546.80 447.10,523.80 453.40,500.80 459.70,478.10 466.00,455.30 472.30,437.50 478.60,427.50 484.90,422.00 491.20,418.70 497.50,415.80 503.80,413.80 510.10,412.20 516.40,410.80 522.70,409.70 529.00,408.70 535.30,407.80 541.60,407.00 547.90,406.40 554.20,406.00 560.50,405.70 566.80,405.40 573.10,405.10 579.40,404.90 585.70,404.70 592.00,404.50" fill="none" stroke="#6d92d4" stroke-width="0.8" stroke-linejoin="round" stroke-linecap="round" />
<rect x="337.90" y="578.20" width="4.20" height="4.20" fill="#e8161c" stroke="none" stroke-width="1" />
<rect x="344.20" y="578.20" width="4.20" height="4.20" fill="#e8161c" stroke="none" stroke-width="1" />
<rect x="350.50" y="582.80" width="4.20" height="4.20" fill="#e8161c" stroke="none" stroke-width="1" />
<rect x="356.80" y="578.90" width="4.20" height="4.20" fill="#e8161c" stroke="none" stroke-width="1" />
<rect x="363.10" y="573.90" width="4.20" height="4.20" fill="#e8161c" stroke="none" stroke-width="1" />
<rect x="369.40" y="575.60" width="4.20" height="4.20" fill="#e8161c" stroke="none" stroke-width="1" />
<rect x="375.70" y="578.90" width="4.20" height="4.20" fill="#e8161c" stroke="none" stroke-width="1" />
<rect x="382.00" y="589.10" width="4.20" height="4.20" fill="#e8161c" stroke="none" stroke-width="1" />
<rect x="388.30" y="581.50" width="4.20" height="4.20" fill="#e8161c" stroke="none" stroke-width="1" />
<rect x="394.60" y="571.70" width="4.20" height="4.20" fill="#e8161c" stroke="none" stroke-width="1" />
<rect x="400.90" y="568.70" width="4.20" height="4.20" fill="#e8161c" stroke="none" stroke-width="1" />
<rect x="407.20" y="571.70" width="4.20" height="4.20" fill="#e8161c" stroke="none" stroke-width="1" />
<rect x="413.50" y="563.50" width="4.20" height="4.20" fill="#e8161c" stroke="none" stroke-width="1" />
<rect x="419.80" y="580.90" width="4.20" height="4.20" fill="#e8161c" stroke="none" stroke-width="1" />
<rect x="426.10" y="576.50" width="4.20" height="4.20" fill="#e8161c" stroke="none" stroke-width="1" />
<rect x="432.40" y="571.30" width="4.20" height="4.20" fill="#e8161c" stroke="none" stroke-width="1" />
<rect x="438.70" y="546.20" width="4.20" height="4.20" fill="#e8161c" stroke="none" stroke-width="1" />
<rect x="445.00" y="523.20" width="4.20" height="4.20" fill="#e8161c" stroke="none" stroke-width="1" />
<rect x="451.30" y="500.20" width="4.20" height="4.20" fill="#e8161c" stroke="none" stroke-width="1" />
<rect x="457.60" y="477.50" width="4.20" height="4.20" fill="#e8161c" stroke="none" stroke-width="1" />
<rect x="463.90" y="454.90" width="4.20" height="4.20" fill="#e8161c" stroke="none" stroke-width="1" />
<rect x="470.20" y="437.10" width="4.20" height="4.20" fill="#e8161c" stroke="none" stroke-width="1" />
<rect x="476.50" y="428.20" width="4.20" height="4.20" fill="#e8161c" stroke="none" stroke-width="1" />
<rect x="482.80" y="425.40" width="4.20" height="4.20" fill="#e8161c" stroke="none" stroke-width="1" />
<rect x="489.10" y="423.70" width="4.20" height="4.20" fill="#e8161c" stroke="none" stroke-width="1" />
<rect x="495.40" y="422.90" width="4.20" height="4.20" fill="#e8161c" stroke="none" stroke-width="1" />
<rect x="501.70" y="422.20" width="4.20" height="4.20" fill="#e8161c" stroke="none" stroke-width="1" />
<rect x="508.00" y="421.70" width="4.20" height="4.20" fill="#e8161c" stroke="none" stroke-width="1" />
<rect x="514.30" y="421.40" width="4.20" height="4.20" fill="#e8161c" stroke="none" stroke-width="1" />
<rect x="520.60" y="421.10" width="4.20" height="4.20" fill="#e8161c" stroke="none" stroke-width="1" />
<rect x="526.90" y="420.90" width="4.20" height="4.20" fill="#e8161c" stroke="none" stroke-width="1" />
<rect x="533.20" y="420.70" width="4.20" height="4.20" fill="#e8161c" stroke="none" stroke-width="1" />
<rect x="539.50" y="420.50" width="4.20" height="4.20" fill="#e8161c" stroke="none" stroke-width="1" />
<rect x="545.80" y="420.30" width="4.20" height="4.20" fill="#e8161c" stroke="none" stroke-width="1" />
<rect x="552.10" y="420.10" width="4.20" height="4.20" fill="#e8161c" stroke="none" stroke-width="1" />
<rect x="558.40" y="419.90" width="4.20" height="4.20" fill="#e8161c" stroke="none" stroke-width="1" />
<rect x="564.70" y="419.80" width="4.20" height="4.20" fill="#e8161c" stroke="none" stroke-width="1" />
<rect x="571.00" y="419.70" width="4.20" height="4.20" fill="#e8161c" stroke="none" stroke-width="1" />
<rect x="577.30" y="419.50" width="4.20" height="4.20" fill="#e8161c" stroke="none" stroke-width="1" />
<rect x="583.60" y="419.40" width="4.20" height="4.20" fill="#e8161c" stroke="none" stroke-width="1" />
<rect x="589.90" y="419.20" width="4.20" height="4.20" fill="#e8161c" stroke="none" stroke-width="1" />
<circle cx="340.00" cy="577.50" r="2.2" fill="#1f4ea6"/>
<circle cx="346.30" cy="612.20" r="2.2" fill="#1f4ea6"/>
<circle cx="352.60" cy="598.10" r="2.2" fill="#1f4ea6"/>
<circle cx="358.90" cy="576.70" r="2.2" fill="#1f4ea6"/>
<circle cx="365.20" cy="584.00" r="2.2" fill="#1f4ea6"/>
<circle cx="371.50" cy="579.50" r="2.2" fill="#1f4ea6"/>
<circle cx="377.80" cy="585.10" r="2.2" fill="#1f4ea6"/>
<circle cx="384.10" cy="579.00" r="2.2" fill="#1f4ea6"/>
<circle cx="390.40" cy="576.90" r="2.2" fill="#1f4ea6"/>
<circle cx="396.70" cy="573.80" r="2.2" fill="#1f4ea6"/>
<circle cx="403.00" cy="577.30" r="2.2" fill="#1f4ea6"/>
<circle cx="409.30" cy="630.20" r="2.2" fill="#1f4ea6"/>
<circle cx="415.60" cy="595.10" r="2.2" fill="#1f4ea6"/>
<circle cx="421.90" cy="580.80" r="2.2" fill="#1f4ea6"/>
<circle cx="428.20" cy="596.40" r="2.2" fill="#1f4ea6"/>
<circle cx="434.50" cy="571.90" r="2.2" fill="#1f4ea6"/>
<circle cx="440.80" cy="546.80" r="2.2" fill="#1f4ea6"/>
<circle cx="447.10" cy="523.80" r="2.2" fill="#1f4ea6"/>
<circle cx="453.40" cy="500.80" r="2.2" fill="#1f4ea6"/>
<circle cx="459.70" cy="478.10" r="2.2" fill="#1f4ea6"/>
<circle cx="466.00" cy="455.30" r="2.2" fill="#1f4ea6"/>
<circle cx="472.30" cy="437.50" r="2.2" fill="#1f4ea6"/>
<circle cx="478.60" cy="427.50" r="2.2" fill="#1f4ea6"/>
<circle cx="484.90" cy="422.00" r="2.2" fill="#1f4ea6"/>
<circle cx="491.20" cy="418.70" r="2.2" fill="#1f4ea6"/>
<circle cx="497.50" cy="415.80" r="2.2" fill="#1f4ea6"/>
<circle cx="503.80" cy="413.80" r="2.2" fill="#1f4ea6"/>
<circle cx="510.10" cy="412.20" r="2.2" fill="#1f4ea6"/>
<circle cx="516.40" cy="410.80" r="2.2" fill="#1f4ea6"/>
<circle cx="522.70" cy="409.70" r="2.2" fill="#1f4ea6"/>
<circle cx="529.00" cy="408.70" r="2.2" fill="#1f4ea6"/>
<circle cx="535.30" cy="407.80" r="2.2" fill="#1f4ea6"/>
<circle cx="541.60" cy="407.00" r="2.2" fill="#1f4ea6"/>
<circle cx="547.90" cy="406.40" r="2.2" fill="#1f4ea6"/>
<circle cx="554.20" cy="406.00" r="2.2" fill="#1f4ea6"/>
<circle cx="560.50" cy="405.70" r="2.2" fill="#1f4ea6"/>
<circle cx="566.80" cy="405.40" r="2.2" fill="#1f4ea6"/>
<circle cx="573.10" cy="405.10" r="2.2" fill="#1f4ea6"/>
<circle cx="579.40" cy="404.90" r="2.2" fill="#1f4ea6"/>
<circle cx="585.70" cy="404.70" r="2.2" fill="#1f4ea6"/>
<circle cx="592.00" cy="404.50" r="2.2" fill="#1f4ea6"/>
<text x="375.01" y="411.90" fill="#1a1a1a" color="#1a1a1a" style="font-size:14.06px;font-style:italic;">V</text>
<text x="383.56" y="414.91" fill="#1a1a1a" color="#1a1a1a" style="font-size:9.21px;">DS</text>
<line x1="350.70" y1="426.00" x2="372.00" y2="426.00" stroke="#9bb3e0" stroke-width="1.2" />
<circle cx="361.3" cy="426" r="3.4" fill="#1f4ea6"/>
<text x="376.75" y="429.17" fill="#1a1a1a" color="#1a1a1a" style="font-size:12.70px;">1.5 V</text>
<line x1="350.70" y1="442.40" x2="372.00" y2="442.40" stroke="#f07070" stroke-width="1.2" />
<rect x="357.90" y="439.00" width="6.80" height="6.80" fill="#e8161c" stroke="none" stroke-width="1" />
<text x="376.38" y="446.47" fill="#1a1a1a" color="#1a1a1a" style="font-size:12.90px;">0.1 V</text>
<text x="507.65" y="575.75" fill="#1a1a1a" color="#1a1a1a" style="font-size:11.81px;font-style:italic;">L</text>
<text x="514.50" y="578.64" fill="#1a1a1a" color="#1a1a1a" style="font-size:10.05px;">gate</text>
<text x="534.95" y="575.75" fill="#1a1a1a" color="#1a1a1a" style="font-size:13.01px;">= 4 nm</text>
<text x="507.65" y="595.75" fill="#1a1a1a" color="#1a1a1a" style="font-size:11.81px;font-style:italic;">L</text>
<text x="514.49" y="597.95" fill="#1a1a1a" color="#1a1a1a" style="font-size:10.22px;">gap</text>
<text x="533.66" y="595.75" fill="#1a1a1a" color="#1a1a1a" style="font-size:12.83px;">= 4 nm</text>
<text x="505.68" y="615.57" fill="#1a1a1a" color="#1a1a1a" style="font-size:12.80px;">DIBL= 5 mV/V</text>
<defs>
<linearGradient id="jet" x1="0" x2="1" y1="0" y2="0"><stop offset="0" stop-color="#141f78"/><stop offset="0.12" stop-color="#1a3c9e"/><stop offset="0.22" stop-color="#1f5cb8"/><stop offset="0.3" stop-color="#38a8e4"/><stop offset="0.36" stop-color="#60bcd0"/><stop offset="0.47" stop-color="#8cc464"/><stop offset="0.56" stop-color="#c8d640"/><stop offset="0.66" stop-color="#f2e232"/><stop offset="0.76" stop-color="#f29a26"/><stop offset="0.87" stop-color="#e4241e"/><stop offset="1" stop-color="#9c1014"/></linearGradient>
<linearGradient id="offch" gradientUnits="userSpaceOnUse" x1="68.8" x2="155.0" y1="0" y2="0"><stop offset="0.0023" stop-color="#e89a20"/><stop offset="0.0162" stop-color="#e8d030"/><stop offset="0.0313" stop-color="#e8e232"/><stop offset="0.0661" stop-color="#d8de34"/><stop offset="0.0951" stop-color="#b0d040"/><stop offset="0.1183" stop-color="#90c45a"/><stop offset="0.1531" stop-color="#70c0a8"/><stop offset="0.1821" stop-color="#44b2dc"/><stop offset="0.2053" stop-color="#36a0e0"/><stop offset="0.2285" stop-color="#2a7ed0"/><stop offset="0.2517" stop-color="#2260b8"/><stop offset="0.2761" stop-color="#1c3c90"/><stop offset="0.2877" stop-color="#142a70"/><stop offset="0.2970" stop-color="#2448a8"/><stop offset="0.4652" stop-color="#1a3088"/><stop offset="0.6323" stop-color="#2a50b0"/><stop offset="0.6450" stop-color="#142a70"/><stop offset="0.6578" stop-color="#2a58b0"/><stop offset="0.6694" stop-color="#2a70c8"/><stop offset="0.6926" stop-color="#30a8e0"/><stop offset="0.7274" stop-color="#50b8d0"/><stop offset="0.7680" stop-color="#90c460"/><stop offset="0.8086" stop-color="#b0d040"/><stop offset="0.8550" stop-color="#e8e030"/><stop offset="0.9130" stop-color="#f0b020"/><stop offset="0.9594" stop-color="#f07020"/><stop offset="0.9884" stop-color="#e04818"/><stop offset="1.0000" stop-color="#c83010"/></linearGradient>
<linearGradient id="onch" gradientUnits="userSpaceOnUse" x1="68.8" x2="155.0" y1="0" y2="0"><stop offset="0.0000" stop-color="#a01018"/><stop offset="0.1299" stop-color="#9c0e16"/><stop offset="0.2599" stop-color="#7c0a10"/><stop offset="0.2715" stop-color="#4a0408"/><stop offset="0.2831" stop-color="#820a10"/><stop offset="0.4548" stop-color="#860a10"/><stop offset="0.6288" stop-color="#820a10"/><stop offset="0.6381" stop-color="#4e0508"/><stop offset="0.6497" stop-color="#780a0e"/><stop offset="0.7680" stop-color="#a01018"/><stop offset="1.0000" stop-color="#a01018"/></linearGradient>
</defs>
<rect x="105.00" y="412.00" width="90.80" height="6.20" fill="url(#jet)" stroke="#444" stroke-width="0.4" />
<text x="105.04" y="391.75" fill="#1a1a1a" color="#1a1a1a" style="font-size:11.69px;">log(n)</text>
<text x="104.58" y="408.19" fill="#1a1a1a" color="#1a1a1a" style="font-size:10.56px;">0</text>
<text x="121.08" y="408.30" fill="#1a1a1a" color="#1a1a1a" style="font-size:10.87px;">4</text>
<text x="137.52" y="408.19" fill="#1a1a1a" color="#1a1a1a" style="font-size:10.56px;">8</text>
<text x="153.40" y="408.30" fill="#1a1a1a" color="#1a1a1a" style="font-size:10.71px;">12</text>
<text x="170.91" y="408.19" fill="#1a1a1a" color="#1a1a1a" style="font-size:10.56px;">16</text>
<text x="189.47" y="408.19" fill="#1a1a1a" color="#1a1a1a" style="font-size:10.56px;">20</text>
<polygon points="68.80,473.60 155.00,457.80 155.00,532.30 68.80,546.40" fill="url(#offch)" stroke="none" stroke-width="1" />
<polygon points="17.30,481.80 62.70,474.30 62.70,547.00 17.30,554.70" fill="#c4967f" stroke="none" stroke-width="1" />
<polygon points="62.70,474.30 68.80,475.30 68.80,546.70 62.70,547.00" fill="#f4c9a8" stroke="none" stroke-width="1" />
<polygon points="62.90,474.60 68.80,473.60 68.80,476.60" fill="#e8701e" stroke="none" stroke-width="1" />
<line x1="23.30" y1="484.80" x2="23.30" y2="560.00" stroke="#a07c6c" stroke-width="0.6" />
<line x1="23.30" y1="484.80" x2="62.70" y2="477.60" stroke="#a07c6c" stroke-width="0.6" />
<line x1="17.30" y1="481.80" x2="23.30" y2="484.80" stroke="#a07c6c" stroke-width="0.6" />
<line x1="9.60" y1="476.90" x2="56.30" y2="469.20" stroke="#c8c8c8" stroke-width="0.7" />
<line x1="56.30" y1="469.20" x2="68.80" y2="476.40" stroke="#c8c8c8" stroke-width="0.7" />
<line x1="9.60" y1="476.90" x2="23.30" y2="484.80" stroke="#c8c8c8" stroke-width="0.7" />
<line x1="9.60" y1="476.90" x2="9.60" y2="551.30" stroke="#c8c8c8" stroke-width="0.7" />
<line x1="9.60" y1="551.30" x2="23.30" y2="560.00" stroke="#c8c8c8" stroke-width="0.7" />
<line x1="23.30" y1="560.00" x2="68.80" y2="552.70" stroke="#c8c8c8" stroke-width="0.7" />
<line x1="68.80" y1="476.40" x2="68.80" y2="552.70" stroke="#c8c8c8" stroke-width="0.7" />
<polygon points="154.60,458.30 194.30,451.90 194.30,524.70 154.60,531.40" fill="#c4967f" stroke="none" stroke-width="1" />
<line x1="160.40" y1="461.30" x2="160.40" y2="536.00" stroke="#a88474" stroke-width="0.5" />
<line x1="154.60" y1="458.30" x2="160.40" y2="461.30" stroke="#a88474" stroke-width="0.5" />
<line x1="160.40" y1="461.30" x2="194.30" y2="455.40" stroke="#a88474" stroke-width="0.5" />
<line x1="146.40" y1="453.10" x2="187.80" y2="446.70" stroke="#c8c8c8" stroke-width="0.7" />
<line x1="187.80" y1="446.70" x2="201.20" y2="453.70" stroke="#c8c8c8" stroke-width="0.7" />
<line x1="146.40" y1="453.10" x2="154.60" y2="457.80" stroke="#c8c8c8" stroke-width="0.7" />
<line x1="201.20" y1="453.70" x2="201.20" y2="529.60" stroke="#c8c8c8" stroke-width="0.7" />
<line x1="160.40" y1="536.00" x2="201.20" y2="529.60" stroke="#c8c8c8" stroke-width="0.7" />
<line x1="146.40" y1="453.10" x2="146.40" y2="458.30" stroke="#c8c8c8" stroke-width="0.7" />
<line x1="194.30" y1="524.70" x2="201.20" y2="529.60" stroke="#c8c8c8" stroke-width="0.7" />
<line x1="93.60" y1="469.30" x2="93.60" y2="542.40" stroke="#10205a" stroke-width="0.6" />
<line x1="124.20" y1="463.50" x2="124.20" y2="536.60" stroke="#10205a" stroke-width="0.6" />
<polygon points="68.80,587.10 155.00,571.30 155.00,645.80 68.80,659.90" fill="url(#onch)" stroke="none" stroke-width="1" />
<polygon points="17.30,595.30 62.70,587.80 62.70,660.50 17.30,668.20" fill="#c4967f" stroke="none" stroke-width="1" />
<polygon points="62.70,587.80 68.80,588.80 68.80,660.20 62.70,660.50" fill="#d9a890" stroke="none" stroke-width="1" />
<polygon points="62.90,588.10 68.80,587.10 68.80,590.10" fill="#a01018" stroke="none" stroke-width="1" />
<line x1="23.30" y1="598.30" x2="23.30" y2="673.50" stroke="#a07c6c" stroke-width="0.6" />
<line x1="23.30" y1="598.30" x2="62.70" y2="591.10" stroke="#a07c6c" stroke-width="0.6" />
<line x1="17.30" y1="595.30" x2="23.30" y2="598.30" stroke="#a07c6c" stroke-width="0.6" />
<line x1="9.60" y1="590.40" x2="56.30" y2="582.70" stroke="#c8c8c8" stroke-width="0.7" />
<line x1="56.30" y1="582.70" x2="68.80" y2="589.90" stroke="#c8c8c8" stroke-width="0.7" />
<line x1="9.60" y1="590.40" x2="23.30" y2="598.30" stroke="#c8c8c8" stroke-width="0.7" />
<line x1="9.60" y1="590.40" x2="9.60" y2="664.80" stroke="#c8c8c8" stroke-width="0.7" />
<line x1="9.60" y1="664.80" x2="23.30" y2="673.50" stroke="#c8c8c8" stroke-width="0.7" />
<line x1="23.30" y1="673.50" x2="68.80" y2="666.20" stroke="#c8c8c8" stroke-width="0.7" />
<line x1="68.80" y1="589.90" x2="68.80" y2="666.20" stroke="#c8c8c8" stroke-width="0.7" />
<polygon points="154.60,571.80 194.30,565.40 194.30,638.20 154.60,644.90" fill="#c4967f" stroke="none" stroke-width="1" />
<line x1="160.40" y1="574.80" x2="160.40" y2="649.50" stroke="#a88474" stroke-width="0.5" />
<line x1="154.60" y1="571.80" x2="160.40" y2="574.80" stroke="#a88474" stroke-width="0.5" />
<line x1="160.40" y1="574.80" x2="194.30" y2="568.90" stroke="#a88474" stroke-width="0.5" />
<line x1="146.40" y1="566.60" x2="187.80" y2="560.20" stroke="#c8c8c8" stroke-width="0.7" />
<line x1="187.80" y1="560.20" x2="201.20" y2="567.20" stroke="#c8c8c8" stroke-width="0.7" />
<line x1="146.40" y1="566.60" x2="154.60" y2="571.30" stroke="#c8c8c8" stroke-width="0.7" />
<line x1="201.20" y1="567.20" x2="201.20" y2="643.10" stroke="#c8c8c8" stroke-width="0.7" />
<line x1="160.40" y1="649.50" x2="201.20" y2="643.10" stroke="#c8c8c8" stroke-width="0.7" />
<line x1="146.40" y1="566.60" x2="146.40" y2="571.80" stroke="#c8c8c8" stroke-width="0.7" />
<line x1="194.30" y1="638.20" x2="201.20" y2="643.10" stroke="#c8c8c8" stroke-width="0.7" />
<line x1="92.40" y1="582.80" x2="92.40" y2="655.90" stroke="#4a0406" stroke-width="0.6" />
<line x1="123.80" y1="577.00" x2="123.80" y2="650.10" stroke="#4a0406" stroke-width="0.6" />
<text x="5.19" y="464.89" fill="#1a1a1a" color="#1a1a1a" style="font-size:11.25px;">Off</text>
<text x="8.18" y="584.19" fill="#1a1a1a" color="#1a1a1a" style="font-size:11.47px;">On</text>
<text transform="translate(26.58,523.03) rotate(-10.5)" x="0" y="0" fill="#1a1a1a" color="#1a1a1a" style="font-size:11.20px;">Source</text>
<text transform="translate(166.72,495.06) rotate(-9)" x="0" y="0" fill="#1a1a1a" color="#1a1a1a" style="font-size:11.20px;">Drain</text>
<text transform="translate(97.60,504.36) rotate(-10)" x="0" y="0" fill="#fff" color="#fff" style="font-size:11.10px;">Gate</text>
<text transform="translate(97.12,517.95) rotate(-10)" x="0" y="0" fill="#fff" color="#fff" style="font-size:11.10px;">Area</text>
<line x1="62.60" y1="459.60" x2="154.50" y2="443.00" stroke="#444" stroke-width="0.6" />
<line x1="62.60" y1="454.60" x2="62.60" y2="464.60" stroke="#777" stroke-width="0.7" />
<line x1="93.00" y1="449.20" x2="93.00" y2="459.20" stroke="#777" stroke-width="0.7" />
<line x1="123.80" y1="443.40" x2="123.80" y2="453.40" stroke="#777" stroke-width="0.7" />
<line x1="154.50" y1="438.00" x2="154.50" y2="448.00" stroke="#777" stroke-width="0.7" />
<text transform="translate(66.17,456.58) rotate(-10)" x="0" y="0" fill="#1a1a1a" color="#1a1a1a" style="font-size:9.60px;stroke-width:0.05px;">4 nm</text>
<text transform="translate(98.77,450.88) rotate(-10)" x="0" y="0" fill="#1a1a1a" color="#1a1a1a" style="font-size:9.60px;stroke-width:0.05px;">4 nm</text>
<text transform="translate(129.67,444.78) rotate(-10)" x="0" y="0" fill="#1a1a1a" color="#1a1a1a" style="font-size:9.60px;stroke-width:0.05px;">4 nm</text>
</svg></body></html>
